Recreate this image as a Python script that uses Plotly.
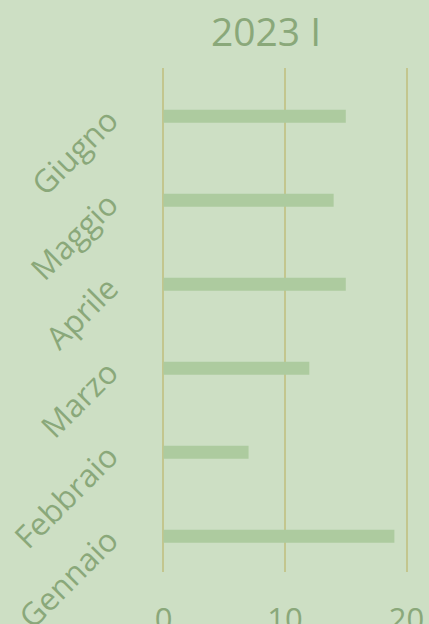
import plotly.graph_objects as go

months = ["Gennaio", "Febbraio", "Marzo", "Aprile", "Maggio", "Giugno"]
values = [19, 7, 12, 15, 14, 15]
x_ticks = [0, 10, 20]
title_text = "2023 I"

bg = "#cddfc4"
bar_color = "#adcb9f"
text_color = "#8aa87a"
grid_color = "#c3c68e"

fig = go.Figure(go.Bar(
    x=values, y=months, orientation="h",
    marker=dict(color=bar_color, line=dict(width=0)),
    width=0.155,
))

fig.update_layout(
    width=429, height=624,
    paper_bgcolor=bg, plot_bgcolor=bg,
    margin=dict(l=163, r=21, t=68, b=52, autoexpand=False),
    font=dict(family="Open Sans", color=text_color),
    title=dict(text=title_text, x=266/429, xanchor="center", y=1-32/624, yanchor="middle",
               font=dict(size=39, color=text_color)),
    showlegend=False,
)
fig.update_xaxes(range=[-0.04, 20.12], tickvals=x_ticks, showgrid=True, gridcolor=grid_color, gridwidth=2,
                 zeroline=True, zerolinecolor=grid_color, zerolinewidth=2, automargin=False,
                 showline=False, tickfont=dict(size=31, color=text_color),
                 ticklabelstandoff=26)
fig.update_yaxes(categoryorder="array", categoryarray=months, tickangle=-45, automargin=False,
                 range=[-0.425, 5.575],
                 showgrid=False, zeroline=False, showline=False,
                 tickfont=dict(size=31.5, color=text_color), ticklabelstandoff=53)

fig.write_html("out.html", config={"displayModeBar": False},
               post_script="document.body.style.margin='0';document.body.style.background='%s';" % bg)
